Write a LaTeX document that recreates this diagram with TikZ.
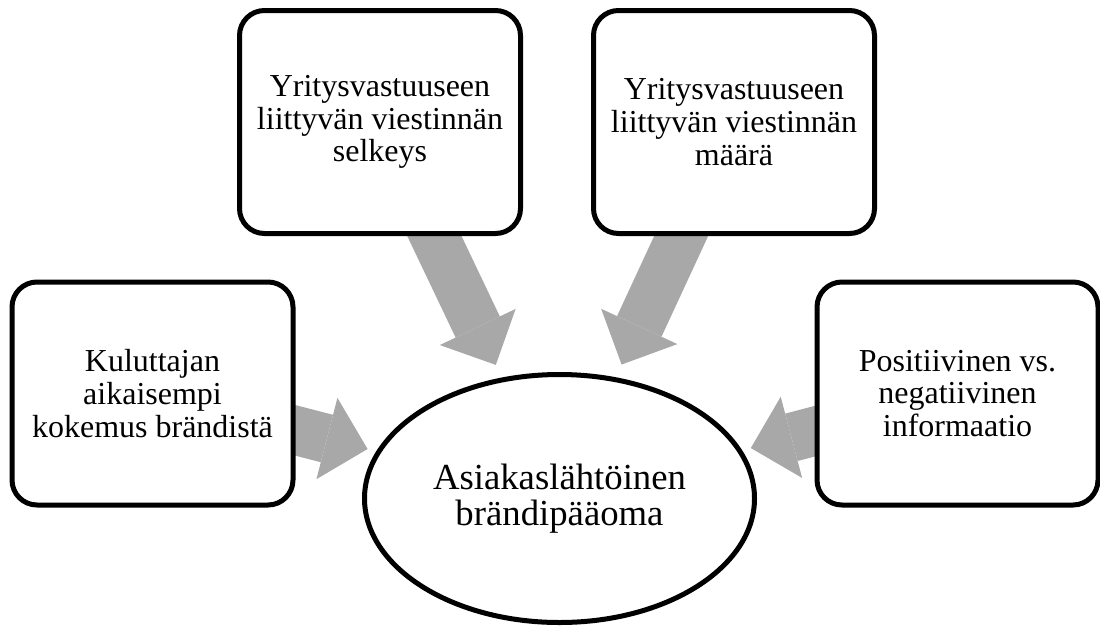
\documentclass[tikz,border=0pt]{standalone}
\usepackage{fontspec}
\setmainfont{Liberation Serif}
\usetikzlibrary{shapes,arrows.meta,backgrounds}
\definecolor{arrowgray}{RGB}{168,168,168}

\begin{document}
\begin{tikzpicture}
		[
		factor/.style = {draw, line width = 0.1cm, rounded corners = 0.5cm, fill = white, minimum width = 5.62cm, minimum height = 4.46cm, align = center, font = \fontsize{18.2}{18.6}\selectfont},
		target/.style = {draw, ellipse, line width = 0.1cm, fill = white, minimum width = 7.8cm, minimum height = 4.96cm, inner sep = 0pt, align = center, font = \fontsize{20.9}{20.6}\selectfont},
		flow/.style = {arrowgray, line width = 0.98cm, -{Triangle[width = 1.68cm, length = 0.84cm, line width = 0pt]}}
		]
		
		\useasboundingbox (0,0) rectangle (22,-12.52);
		
		\node[factor] (clarity) at (7.6,-2.44) {Yritysvastuuseen\\liittyvän viestinnän\\selkeys};
		\node[factor] (amount) at (14.68,-2.44) {Yritysvastuuseen\\liittyvän viestinnän\\määrä};
		\node[factor] (experience) at (3.05,-7.87) {Kuluttajan\\aikaisempi\\kokemus brändistä};
		\node[factor] (valence) at (19.15,-7.87) {Positiivinen vs.\\negatiivinen\\informaatio};
		\node[target] (equity) at (11.19,-9.97) {Asiakaslähtöinen\\brändipääoma};
		
		\begin{scope}[on background layer]
			\draw[flow, shorten >= 0.28cm] (clarity.center) -- (equity);
			\draw[flow, shorten >= 0.28cm] (amount.center) -- (equity);
			\draw[flow, shorten >= 0.18cm] (experience.center) -- (equity);
			\draw[flow, shorten >= 0.18cm] (valence.center) -- (equity);
		\end{scope}
		
		\end{tikzpicture}
\end{document}
